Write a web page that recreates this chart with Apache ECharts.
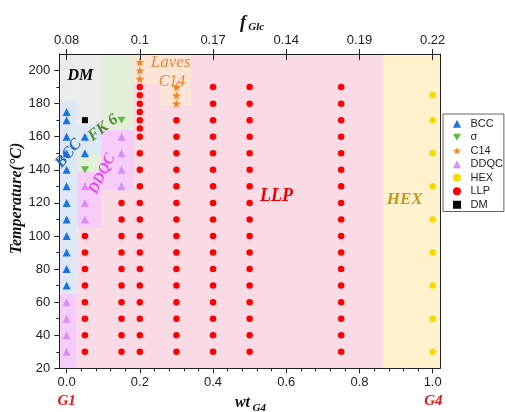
<!DOCTYPE html>
<html><head><meta charset="utf-8">
<script src="https://cdn.jsdelivr.net/npm/echarts@6/dist/echarts.min.js"></script>
<style>html,body{margin:0;padding:0;background:#fff}#c{width:505px;height:412px}</style>
</head><body><div id="c"></div>
<script>
// ---- data (wt_G4, Temperature °C) ----
const bccPts = [[0,70],[0,80],[0,90],[0,100],[0,110],[0,120],[0,130],[0,140],[0,150],[0,160],[0,170],[0,175],[0.05,150],[0.05,160]];
const sigmaPts = [[0.05,140],[0.15,170]];
const c14Pts = [[0.2,195],[0.2,200],[0.2,205],[0.3,180],[0.3,185],[0.3,190]];
const ddqcPts = [[0,30],[0,40],[0,50],[0,60],[0.05,110],[0.05,120],[0.05,130],[0.15,130],[0.15,140],[0.15,150],[0.15,160]];
const hexPts = [[1,30],[1,50],[1,70],[1,90],[1,110],[1,130],[1,150],[1,170],[1,185]];
const dmPts = [[0.05,170]];
const llpCols = [0.05, 0.15, 0.2, 0.3, 0.4, 0.5, 0.75];
const llpTemps = [
  [30,40,50,60,70,80,90,100],
  [30,40,50,60,70,80,90,100,110,120],
  [30,40,50,60,70,80,90,100,110,120,130,140,150,160,165,170,175,180,185,190],
  [30,40,50,60,70,80,90,100,110,120,130,140,150,160,170],
  [30,40,50,60,70,80,90,100,110,120,130,140,150,160,170,180,190],
  [30,40,50,60,70,80,90,100,110,120,130,140,150,160,170,180,190],
  [30,40,50,60,70,80,90,100,110,120,130,140,150,160,170,180,190]
];
const xMajor = [0, 0.2, 0.4, 0.6, 0.8, 1.0];
const xMinor = [0.04,0.08,0.12,0.16,0.24,0.28,0.32,0.36,0.44,0.48,0.52,0.56,0.64,0.68,0.72,0.76,0.84,0.88,0.92,0.96];
const topLabels = ['0.08','0.1','0.17','0.14','0.19','0.22'];
const yMajor = [20,40,60,80,100,120,140,160,180,200];
const yMinor = [30,50,70,90,110,130,150,170,190];
// phase regions: [x0, y0, x1, y1]
const regLLP = [[0.03,20,0.865,210]];
const regDDQC = [[-0.02,20,0.03,65],[0.03,105,0.095,139],[0.095,128,0.184,164]];
const regBCC = [[-0.02,65,0.03,182],[0.03,149,0.095,167]];
const regSigma = [[0.03,139,0.095,149],[0.095,164,0.184,210]];
const regDM = [[-0.02,182,0.03,210],[0.03,167,0.095,210]];
const regC14 = [[0.184,192,0.34,210],[0.255,179,0.34,192]];
const regHEX = [[0.865,20,1.02,210]];

const llpPts = [];
llpCols.forEach((x,i)=>llpTemps[i].forEach(t=>llpPts.push([x,t])));

function areas(list, color){
  return list.map(r=>[{xAxis:r[0], yAxis:r[1], itemStyle:{color:color}},{xAxis:r[2], yAxis:r[3]}]);
}
const allAreas = [].concat(
  areas(regLLP,'#fadbe5'), areas(regDDQC,'#f8ccf9'), areas(regBCC,'#dde8f4'),
  areas(regSigma,'#e3efd9'), areas(regDM,'#ececec'), areas(regC14,'#fce5d7'), areas(regHEX,'#fff2cd'));

const ser = 'Liberation Serif';
const sans = 'Liberation Sans';
const downTri = 'path://M0,0 L10,0 L5,9 Z';
const star = 'path://M10,0 L12.25,6.91 L19.51,6.91 L13.63,11.18 L15.88,18.09 L10,13.82 L4.12,18.09 L6.37,11.18 L0.49,6.91 L7.75,6.91 Z';

const axLine = {show:true, onZero:false, lineStyle:{color:'#222', width:1}};
const chart = echarts.init(document.getElementById('c'));
chart.setOption({
  animation:false,
  grid:{left:59.3, right:65, top:54, bottom:43.7},
  xAxis:[
    {type:'value', position:'bottom', min:-0.02, max:1.02, z:10, axisLine:axLine,
     axisTick:{customValues:xMajor, length:5, lineStyle:{color:'#222'}},
     axisLabel:{customValues:xMajor, formatter:v=>v.toFixed(1), fontSize:13, fontFamily:sans, color:'#222', margin:8},
     splitLine:{show:false}},
    {type:'value', position:'bottom', min:-0.02, max:1.02, z:10, axisLine:{show:false, onZero:false},
     axisTick:{customValues:xMinor, length:3, lineStyle:{color:'#222'}},
     axisLabel:{show:false}, splitLine:{show:false}},
    {type:'value', position:'top', min:-0.02, max:1.02, z:10, axisLine:axLine,
     axisTick:{customValues:xMajor, length:5, lineStyle:{color:'#222'}},
     axisLabel:{customValues:xMajor, formatter:v=>topLabels[Math.round(v/0.2)], fontSize:13, fontFamily:sans, color:'#222', margin:7},
     splitLine:{show:false}},
    {type:'value', position:'top', min:-0.02, max:1.02, z:10, axisLine:{show:false, onZero:false},
     axisTick:{customValues:xMajor, inside:true, length:6, lineStyle:{color:'#222'}},
     axisLabel:{show:false}, splitLine:{show:false}}
  ],
  yAxis:[
    {type:'value', position:'left', min:20, max:210, z:10, axisLine:axLine,
     axisTick:{customValues:yMajor, length:5, lineStyle:{color:'#222'}},
     axisLabel:{customValues:yMajor, fontSize:13, fontFamily:sans, color:'#222', margin:9},
     splitLine:{show:false}},
    {type:'value', position:'left', min:20, max:210, z:10, axisLine:{show:false, onZero:false},
     axisTick:{customValues:yMinor, length:3, lineStyle:{color:'#222'}},
     axisLabel:{show:false}, splitLine:{show:false}},
    {type:'value', position:'right', min:20, max:210, z:10, axisLine:axLine,
     axisTick:{show:false}, axisLabel:{show:false}, splitLine:{show:false}}
  ],
  legend:{
    data:['BCC','σ','C14','DDQC','HEX','LLP','DM'], orient:'vertical', left:443, top:114,
    itemWidth:8, itemHeight:8, itemGap:0, padding:[3,1,0,10],
    borderColor:'#666', borderWidth:1, backgroundColor:'#fff',
    textStyle:{fontSize:11, lineHeight:13.5, fontFamily:sans, color:'#222', padding:[0,0,0,4.5]}
  },
  series:[
    {type:'scatter', name:'regions', data:[], z:1, silent:true,
     markArea:{silent:true, itemStyle:{opacity:1}, data:allAreas}},
    {type:'scatter', name:'LLP', data:llpPts, symbol:'circle', symbolSize:6.5, itemStyle:{color:'#ff0000', opacity:1}, z:3},
    {type:'scatter', name:'BCC', data:bccPts, symbol:'triangle', symbolSize:8, itemStyle:{color:'#1a73e6', opacity:1}, z:3},
    {type:'scatter', name:'σ', data:sigmaPts, symbol:downTri, symbolSize:[8,7], itemStyle:{color:'#62bb46', opacity:1}, z:3},
    {type:'scatter', name:'C14', data:c14Pts, symbol:star, symbolSize:9, itemStyle:{color:'#f5821f', opacity:1}, z:3},
    {type:'scatter', name:'DDQC', data:ddqcPts, symbol:'triangle', symbolSize:8, itemStyle:{color:'#d98ef7', opacity:1}, z:3},
    {type:'scatter', name:'HEX', data:hexPts, symbol:'circle', symbolSize:6.5, itemStyle:{color:'#f7d900', opacity:1}, z:3},
    {type:'scatter', name:'DM', data:dmPts, symbol:'rect', symbolSize:6, itemStyle:{color:'#000', opacity:1}, z:3}
  ],
  graphic:[
    {type:'text', x:80.3, y:76, z:20, style:{text:'DM', font:'italic bold 16px "'+ser+'"', fill:'#000', align:'center', verticalAlign:'middle'}},
    {type:'text', x:68.5, y:153.5, rotation:50*Math.PI/180, z:20, style:{text:'BCC', font:'italic bold 16px "'+ser+'"', fill:'#2a64c0', align:'center', verticalAlign:'middle'}},
    {type:'text', x:103, y:128, rotation:38*Math.PI/180, z:20, style:{text:'FK 6', font:'italic bold 16px "'+ser+'"', fill:'#4f8a2f', align:'center', verticalAlign:'middle'}},
    {type:'text', x:102, y:174, rotation:64*Math.PI/180, z:20, style:{text:'DDQC', font:'italic bold 15px "'+ser+'"', fill:'#e04cf2', align:'center', verticalAlign:'middle'}},
    {type:'text', x:170.7, y:62.5, z:20, style:{text:'Laves', font:'italic 17px "'+ser+'"', fill:'#ef8435', align:'center', verticalAlign:'middle'}},
    {type:'text', x:172, y:81.5, z:20, style:{text:'C14', font:'italic 16px "'+ser+'"', fill:'#ef8435', align:'center', verticalAlign:'middle'}},
    {type:'text', x:276.5, y:196.7, z:20, style:{text:'LLP', font:'italic bold 18px "'+ser+'"', fill:'#ee0000', align:'center', verticalAlign:'middle'}},
    {type:'text', x:404.7, y:199.3, z:20, style:{text:'HEX', font:'italic bold 17px "'+ser+'"', fill:'#c39a1c', align:'center', verticalAlign:'middle'}},
    {type:'text', x:66.7, y:400.7, z:20, style:{text:'G1', font:'italic bold 15px "'+ser+'"', fill:'#ee1111', align:'center', verticalAlign:'middle'}},
    {type:'text', x:433.3, y:400.7, z:20, style:{text:'G4', font:'italic bold 15px "'+ser+'"', fill:'#ee1111', align:'center', verticalAlign:'middle'}},
    {type:'text', x:242.5, y:402.7, z:20, style:{text:'wt', font:'italic bold 16px "'+ser+'"', fill:'#111', align:'center', verticalAlign:'middle'}},
    {type:'text', x:252.5, y:408.3, z:20, style:{text:'G4', font:'italic bold 11px "'+ser+'"', fill:'#111', align:'left', verticalAlign:'middle'}},
    {type:'text', x:243, y:23.3, z:20, style:{text:'f', font:'italic bold 18px "'+ser+'"', fill:'#111', align:'center', verticalAlign:'middle'}},
    {type:'text', x:248.3, y:27.3, z:20, style:{text:'Glc', font:'italic bold 11px "'+ser+'"', fill:'#111', align:'left', verticalAlign:'middle'}},
    {type:'text', x:17, y:198.5, rotation:Math.PI/2, z:20, style:{text:'Temperature(°C)', font:'italic bold 16px "'+ser+'"', fill:'#111', align:'center', verticalAlign:'middle'}}
  ]
});
</script></body></html>
